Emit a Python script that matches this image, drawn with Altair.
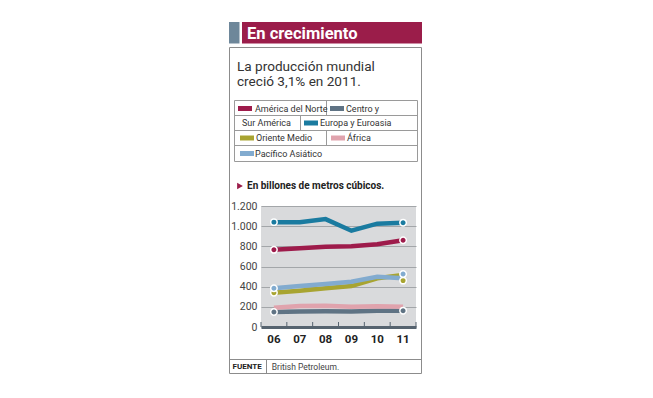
import altair as alt
import pandas as pd

# ---------------- data ----------------
years = ["06", "07", "08", "09", "10", "11"]
series = ["América del Norte", "Centro y Sur América", "Europa y Euroasia",
          "Oriente Medio", "África", "Pacífico Asiático"]
colors = ["#9e1b4b", "#5f7384", "#1a7ba0", "#a8a431", "#e0a3ad", "#82abcf"]

north_america = [765, 780, 797, 800, 820, 860]
central_south_america = [149, 154, 155, 153, 162, 162]
europe_eurasia = [1040, 1040, 1070, 955, 1025, 1035]
middle_east = [340, 360, 384, 406, 483, 516]
africa = [192, 208, 211, 201, 206, 200]
asia_pacific = [384, 406, 426, 449, 499, 483]
series_values = [north_america, central_south_america, europe_eurasia,
                 middle_east, africa, asia_pacific]

# end-point markers as printed (first and last year); África has none
dot_first = [765, 149, 1040, 340, None, 384]
dot_last = [860, 162, 1035, 460, None, 525]

y_ticks = [0, 200, 400, 600, 800, 1000, 1200]

title_text = "En crecimiento"
subtitle_lines = ["La producción mundial", "creció 3,1% en 2011."]
legend_labels = ["América del Norte", "Centro y", "Sur América", "Europa y Euroasia",
                 "Oriente Medio", "África", "Pacífico Asiático"]
unit_text = "En billones de metros cúbicos."
source_label = "FUENTE"
source_text = "British Petroleum."

# ---------------- tables ----------------
rows = []
for s, vals in zip(series, series_values):
    for y, v in zip(years, vals):
        rows.append({"serie": s, "year": y, "value": v})
df = pd.DataFrame(rows)

dots = []
for s, a, b in zip(series, dot_first, dot_last):
    if a is not None:
        dots.append({"serie": s, "year": years[0], "value": a})
    if b is not None:
        dots.append({"serie": s, "year": years[-1], "value": b})
dots_df = pd.DataFrame(dots)
years_df = pd.DataFrame({"year": years})
last_df = pd.DataFrame({"year": [years[-1]]})

FONT = "Roboto"
W, H = 155, 121
one = pd.DataFrame({"k": [0]})

color_scale = alt.Scale(domain=series, range=colors)
x_scale = alt.Scale(type="band", paddingInner=0, paddingOuter=0, domain=years)
y_scale = alt.Scale(domain=[0, 1200], nice=False)

x_axis = alt.Axis(ticks=False, grid=False, domainColor="#56636f", domainWidth=3,
                  labelFont=FONT, labelFontSize=11.5, labelFontWeight="bold",
                  labelColor="#222222", labelPadding=6, labelAngle=0)
y_axis = alt.Axis(values=y_ticks, domain=False, ticks=False, gridColor="#a3a6a9",
                  gridWidth=1, labelFont=FONT, labelFontSize=10.5,
                  labelColor="#444444", labelPadding=4, labelOverlap=False,
                  labelExpr="replace(format(datum.value, ','), ',', '.')")


def rect(x, x2, y, y2, fill="transparent", stroke=None, sw=1):
    kw = dict(fill=fill, strokeWidth=sw)
    if stroke:
        kw["stroke"] = stroke
    return alt.Chart(one).mark_rect(**kw).encode(
        x=alt.value(x), x2=alt.value(x2), y=alt.value(y), y2=alt.value(y2))


def hline(x, x2, y, color="#9a9a9a"):
    return alt.Chart(one).mark_rule(color=color, strokeWidth=1).encode(
        x=alt.value(x), x2=alt.value(x2), y=alt.value(y))


def vline(x, y, y2, color="#9a9a9a"):
    return alt.Chart(one).mark_rule(color=color, strokeWidth=1).encode(
        x=alt.value(x), y=alt.value(y), y2=alt.value(y2))


def label(x, y, s, size, bold=False, color="#333333", baseline="middle", font=FONT):
    return alt.Chart(one).mark_text(
        align="left", baseline=baseline, fontSize=size, font=font,
        fontWeight="bold" if bold else "normal", color=color
    ).encode(x=alt.value(x), y=alt.value(y), text=alt.value(s))


decor = []
# outer frame and title bar
decor.append(rect(-31.5, 160.5, -158.5, 167.5, stroke="#8c8c8c"))
decor.append(rect(-32, -21.5, -184, -162.5, fill="#6e879a"))
decor.append(rect(-19, 161, -184, -162.5, fill="#9b1d4a"))
decor.append(label(-14, -167, title_text, 16.5, bold=True, color="white", baseline="alphabetic"))
# subtitle
decor.append(label(-24, -135.5, subtitle_lines[0], 13.6, baseline="alphabetic"))
decor.append(label(-24, -120.5, subtitle_lines[1], 13.6, baseline="alphabetic"))
# legend box
decor.append(rect(-26.5, 156.5, -105.5, -44.5, stroke="#9a9a9a"))
for yy in (-90.5, -75.5, -60.5):
    decor.append(hline(-26.5, 156.5, yy))
decor.append(vline(65.5, -105.5, -90.5))
decor.append(vline(39.5, -90.5, -75.5))
decor.append(vline(65.5, -75.5, -60.5))
# swatches: (series index, x, row center)
sw_pos = [(0, -23, -97.5), (1, 69, -97.5), (2, 43, -83), (3, -21, -68), (4, 70, -68), (5, -21, -52.5)]
for i, xs, yc in sw_pos:
    decor.append(rect(xs, xs + 14, yc - 2.5, yc + 2.5, fill=colors[i]))
lab_pos = [(-6, -97.5), (85, -97.5), (-19, -83), (59, -83), (-5, -68), (86, -68), (-6, -52.5)]
for s, (xx, yy) in zip(legend_labels, lab_pos):
    decor.append(label(xx, yy, s, 9))
# unit note
decor.append(alt.Chart(one).mark_point(shape="triangle-right", filled=True, size=45,
                                        color="#9b1d4a", opacity=1).encode(
    x=alt.value(-21), y=alt.value(-20)))
decor.append(label(-14, -20, unit_text, 10, bold=True, color="#222222"))
# footer
decor.append(hline(-31.5, 160.5, 153.5, color="#8c8c8c"))
decor.append(vline(5.5, 153.5, 167.5, color="#8c8c8c"))
decor.append(label(-28.5, 161, source_label, 8, bold=True, color="#222222"))
decor.append(label(10.7, 161, source_text, 8.5, color="#444444"))

# ---------------- data layers ----------------
lines = alt.Chart(df).mark_line(strokeWidth=4.5, strokeCap="butt").encode(
    x=alt.X("year:O", scale=x_scale, bandPosition=0.5, title=None, axis=x_axis),
    y=alt.Y("value:Q", scale=y_scale, title=None, axis=y_axis),
    color=alt.Color("serie:N", scale=color_scale, legend=None),
    detail="serie:N")

points = alt.Chart(dots_df).mark_circle(size=42, opacity=1, stroke="white", strokeWidth=1.5).encode(
    x=alt.X("year:O", scale=x_scale, bandPosition=0.5, title=None, axis=x_axis),
    y=alt.Y("value:Q", scale=y_scale, title=None, axis=y_axis),
    color=alt.Color("serie:N", scale=color_scale, legend=None))

ticks = alt.Chart(years_df).mark_rule(color="#56636f", strokeWidth=1).encode(
    x=alt.X("year:O", scale=x_scale, bandPosition=0, title=None, axis=x_axis),
    y=alt.value(H - 5), y2=alt.value(H))
ticks_end = alt.Chart(last_df).mark_rule(color="#56636f", strokeWidth=1).encode(
    x=alt.X("year:O", scale=x_scale, bandPosition=1, title=None, axis=x_axis),
    y=alt.value(H - 5), y2=alt.value(H))

chart = alt.layer(lines, points, ticks, ticks_end, *decor).properties(
    width=W, height=H,
    autosize=alt.AutoSizeParams(type="none"),
    padding={"left": 253, "top": 198, "right": 229, "bottom": 63},
    background="white",
).configure_view(fill="#d9dadc", stroke=None)

chart.save("out.html", embed_options={"renderer": "svg", "actions": False})
